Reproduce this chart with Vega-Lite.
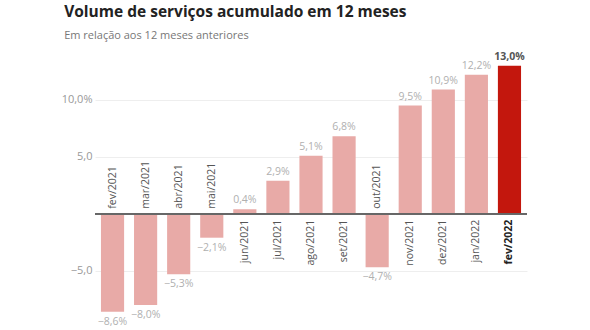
{
  "$schema": "https://vega.github.io/schema/vega-lite/v6.json",
  "autosize": "none",
  "width": 432,
  "height": 262,
  "padding": {"left": 95, "top": 60, "right": 63, "bottom": 8},
  "background": "white",
  "config": {"font": "Open Sans", "view": {"stroke": null}},
  "title": {
    "text": "Volume de serviços acumulado em 12 meses",
    "subtitle": "Em relação aos 12 meses anteriores",
    "anchor": "start",
    "dx": 3,
    "offset": 11,
    "fontSize": 15.5,
    "fontWeight": "bold",
    "color": "#222222",
    "subtitleFontSize": 11,
    "subtitleColor": "#777777",
    "subtitlePadding": 9,
    "font": "Open Sans",
    "subtitleFont": "Open Sans"
  },
  "data": {
    "values": [
      {"month": "fev/2021", "v": -8.6, "label": "−8,6%"},
      {"month": "mar/2021", "v": -8.0, "label": "−8,0%"},
      {"month": "abr/2021", "v": -5.3, "label": "−5,3%"},
      {"month": "mai/2021", "v": -2.1, "label": "−2,1%"},
      {"month": "jun/2021", "v": 0.4, "label": "0,4%"},
      {"month": "jul/2021", "v": 2.9, "label": "2,9%"},
      {"month": "ago/2021", "v": 5.1, "label": "5,1%"},
      {"month": "set/2021", "v": 6.8, "label": "6,8%"},
      {"month": "out/2021", "v": -4.7, "label": "−4,7%"},
      {"month": "nov/2021", "v": 9.5, "label": "9,5%"},
      {"month": "dez/2021", "v": 10.9, "label": "10,9%"},
      {"month": "jan/2022", "v": 12.2, "label": "12,2%"},
      {"month": "fev/2022", "v": 13.0, "label": "13,0%"}
    ]
  },
  "encoding": {
    "x": {
      "field": "month", "type": "nominal", "sort": null,
      "scale": {"paddingInner": 0.3, "paddingOuter": 0.18},
      "axis": null
    },
    "y": {
      "field": "v", "type": "quantitative",
      "scale": {"domain": [-9.5, 13.5], "nice": false, "zero": false},
      "axis": {
        "title": null,
        "values": [-5, 5, 10],
        "labelExpr": "datum.value == 10 ? '10,0%' : datum.value == 5 ? '5,0' : '−5,0'",
        "domain": false,
        "ticks": false,
        "labelPadding": 3,
        "labelColor": "#999999",
        "labelFontSize": 11,
        "gridColor": "#eeeeee",
        "grid": true
      }
    }
  },
  "layer": [
    {
      "mark": {"type": "bar"},
      "encoding": {
        "color": {
          "condition": {"test": "datum.month == 'fev/2022'", "value": "#c3170d"},
          "value": "#e8aaa7"
        }
      }
    },
    {
      "mark": {"type": "rule", "color": "#666666", "strokeWidth": 1},
      "encoding": {"x": null, "y": {"datum": 0}}
    },
    {
      "transform": [{"filter": "datum.v >= 0 && datum.month != 'fev/2022'"}],
      "mark": {"type": "text", "baseline": "bottom", "dy": -4, "fontSize": 10.5, "color": "#b0b0b0"},
      "encoding": {"text": {"field": "label"}}
    },
    {
      "transform": [{"filter": "datum.month == 'fev/2022'"}],
      "mark": {"type": "text", "baseline": "bottom", "dy": -4, "fontSize": 10.5, "fontWeight": "bold", "color": "#555555"},
      "encoding": {"text": {"field": "label"}}
    },
    {
      "transform": [{"filter": "datum.v < 0"}],
      "mark": {"type": "text", "baseline": "top", "dy": 5, "fontSize": 10.5, "color": "#b0b0b0"},
      "encoding": {"text": {"field": "label"}}
    },
    {
      "transform": [{"filter": "datum.v >= 0 && datum.month != 'fev/2022'"}],
      "mark": {"type": "text", "angle": 270, "align": "right", "baseline": "middle", "dx": -6, "fontSize": 10.5, "color": "#555555"},
      "encoding": {"y": {"datum": 0}, "text": {"field": "month"}}
    },
    {
      "transform": [{"filter": "datum.month == 'fev/2022'"}],
      "mark": {"type": "text", "angle": 270, "align": "right", "baseline": "middle", "dx": -6, "fontSize": 10.5, "fontWeight": "bold", "color": "#222222"},
      "encoding": {"y": {"datum": 0}, "text": {"field": "month"}}
    },
    {
      "transform": [{"filter": "datum.v < 0"}],
      "mark": {"type": "text", "angle": 270, "align": "left", "baseline": "middle", "dx": 5, "fontSize": 10.5, "color": "#555555"},
      "encoding": {"y": {"datum": 0}, "text": {"field": "month"}}
    }
  ]
}
